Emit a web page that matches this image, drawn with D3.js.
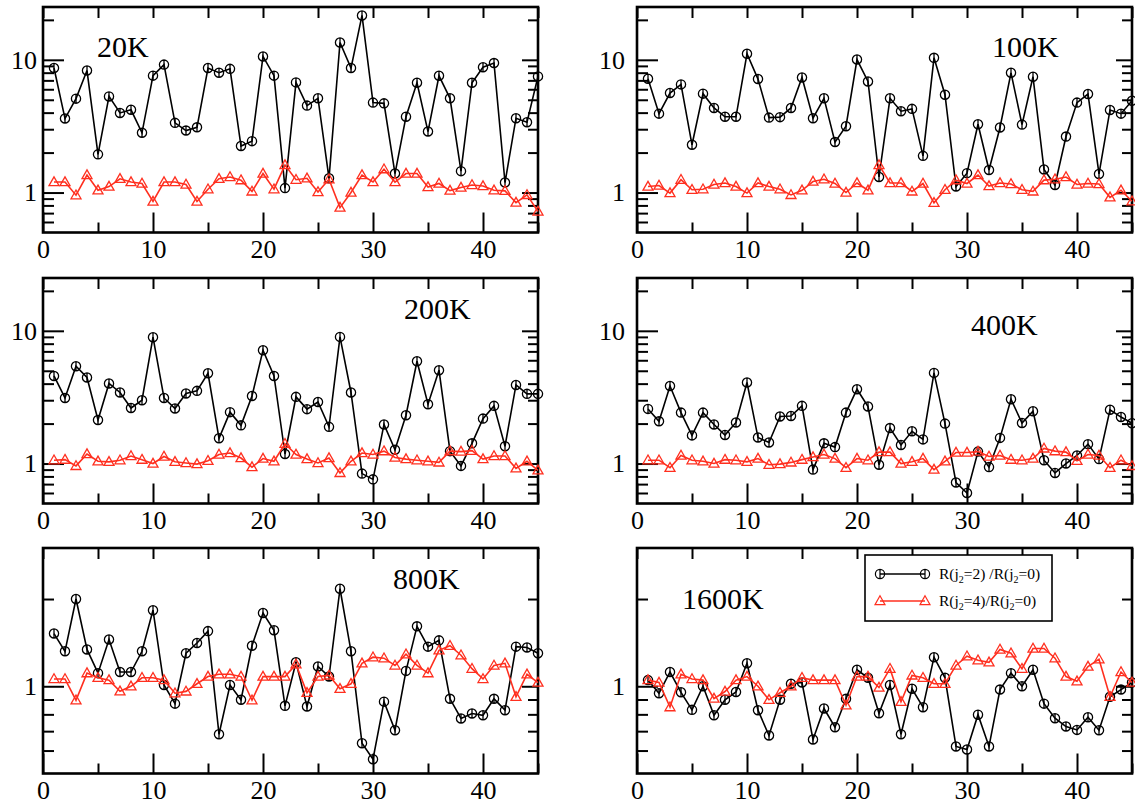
<!DOCTYPE html>
<html>
<head>
<meta charset="utf-8">
<script src="https://cdn.jsdelivr.net/npm/d3@7"></script>
<style>
  body { margin: 0; background: #fff; }
  svg { display: block; font-family: "Liberation Serif", "DejaVu Serif", serif; }
</style>
</head>
<body>
<svg></svg>
<script>
// site index along the x axis
let sites = [1,2,3,4,5,6,7,8,9,10,11,12,13,14,15,16,17,18,19,20,21,22,23,24,25,26,27,28,29,30,31,32,33,34,35,36,37,38,39,40,41,42,43,44,45]

let panelLabels = ['20K', '100K', '200K', '400K', '800K', '1600K']

// R(j2=2)/R(j2=0)  (black circles)
let r2_20K = [8.67,3.61,5.1,8.3,1.94,5.3,3.98,4.2,2.82,7.6,9.2,3.35,2.93,3.1,8.67,8.0,8.55,2.24,2.44,10.6,7.6,1.08,6.76,4.52,5.13,1.28,13.5,8.67,21.6,4.76,4.7,1.39,3.73,6.72,2.88,7.58,5.13,1.45,6.72,8.8,9.45,1.19,3.63,3.39,7.5]
let r2_100K = [7.2,3.93,5.62,6.53,2.29,5.56,4.34,3.72,3.72,11.1,7.16,3.67,3.7,4.34,7.36,3.63,5.13,2.4,3.16,10.05,6.87,1.31,5.13,4.1,4.27,1.89,10.35,5.46,1.11,1.4,3.27,1.48,3.09,7.98,3.25,7.45,1.49,1.14,2.64,4.76,5.52,1.38,4.19,3.93,4.92]
let r2_200K = [4.57,3.12,5.41,4.45,2.13,4.01,3.43,2.62,3.0,8.95,3.12,2.6,3.37,3.53,4.79,1.55,2.44,1.94,3.23,7.14,4.57,1.18,3.18,2.57,2.91,1.89,9.0,3.43,0.84,0.76,1.97,1.27,2.31,5.9,2.8,5.05,1.24,0.96,1.42,2.18,2.72,1.35,3.91,3.35,3.35]
let r2_400K = [2.58,2.08,3.84,2.42,1.63,2.42,1.97,1.64,2.04,4.08,1.57,1.44,2.26,2.28,2.72,0.9,1.42,1.33,2.42,3.63,2.69,0.98,1.85,1.38,1.75,1.52,4.82,2.0,0.72,0.6,1.23,0.94,1.56,3.05,2.02,2.48,1.06,0.85,1.0,1.15,1.4,1.08,2.54,2.24,2.01]
let r2_800K = [1.52,1.32,2.0,1.34,1.11,1.45,1.12,1.12,1.32,1.83,1.01,0.871,1.3,1.41,1.55,0.683,1.01,0.898,1.38,1.79,1.56,0.856,1.21,0.851,1.17,1.08,2.17,1.32,0.636,0.56,0.885,0.705,1.13,1.61,1.37,1.44,0.905,0.774,0.805,0.794,0.905,0.827,1.37,1.36,1.3]
let r2_1600K = [1.05,0.946,1.12,0.953,0.829,1.0,0.794,0.898,0.956,1.2,0.827,0.676,0.898,1.02,1.03,0.655,0.838,0.722,0.905,1.14,1.07,0.807,1.01,0.683,0.98,0.847,1.26,1.07,0.62,0.605,0.798,0.62,0.974,1.11,1.0,1.14,0.871,0.776,0.726,0.707,0.782,0.705,0.92,0.974,1.03]

// R(j2=4)/R(j2=0)  (red triangles)
let r4_20K = [1.2,1.2,0.955,1.355,1.04,1.11,1.27,1.2,1.17,0.856,1.2,1.2,1.15,0.856,1.06,1.27,1.31,1.24,1.02,1.39,1.06,1.61,1.25,1.28,1.01,1.26,0.77,1.0,1.355,1.2,1.5,1.2,1.39,1.39,1.1,1.17,1.035,1.09,1.14,1.12,1.04,1.03,0.84,0.96,0.72]
let r4_100K = [1.11,1.13,0.99,1.25,1.05,1.06,1.15,1.18,1.11,0.99,1.18,1.11,1.06,0.96,1.04,1.21,1.26,1.17,1.0,1.18,1.04,1.61,1.18,1.18,1.02,1.17,0.836,1.05,1.24,1.17,1.355,1.12,1.18,1.16,1.05,1.02,1.24,1.26,1.31,1.15,1.17,1.16,0.92,1.04,0.86]
let r4_200K = [1.06,1.07,0.96,1.18,1.04,1.03,1.06,1.14,1.07,1.0,1.13,1.03,1.01,0.99,1.05,1.17,1.2,1.1,0.94,1.09,1.04,1.41,1.17,1.08,1.01,1.1,0.85,1.04,1.2,1.17,1.24,1.11,1.08,1.06,1.04,1.02,1.24,1.23,1.25,1.08,1.14,1.14,0.92,1.04,0.89]
let r4_400K = [1.06,1.06,0.93,1.15,1.06,1.04,1.0,1.07,1.06,1.03,1.09,0.98,0.99,1.02,1.07,1.12,1.17,1.09,0.93,1.09,1.06,1.22,1.22,1.0,1.03,1.09,0.9,1.04,1.21,1.21,1.23,1.13,1.15,1.07,1.06,1.09,1.3,1.24,1.22,1.05,1.17,1.15,0.93,1.06,0.96]
let r4_800K = [1.06,1.06,0.895,1.11,1.07,1.05,0.961,1.0,1.07,1.07,1.05,0.946,0.96,1.02,1.08,1.1,1.1,1.08,0.895,1.08,1.08,1.08,1.19,0.949,1.08,1.09,0.98,1.02,1.2,1.26,1.25,1.18,1.29,1.18,1.11,1.33,1.38,1.28,1.15,1.06,1.18,1.2,0.92,1.1,1.03]
let r4_1600K = [1.05,1.03,0.847,1.1,1.06,1.05,0.907,0.959,1.05,1.08,1.0,0.898,0.95,1.0,1.07,1.05,1.05,1.05,0.86,1.08,1.08,0.99,1.15,0.884,1.09,1.07,1.02,1.02,1.18,1.27,1.23,1.21,1.34,1.3,1.15,1.35,1.35,1.25,1.08,1.04,1.17,1.24,0.92,1.12,1.03]

// axis ticks
let xMajor = [0,10,20,30,40]
let xMinor = [5,15,25,35,45]
let yDomainWide = [0.5, 25]
let yDomainNarrow = [0.5, 3]
let yMajorWide = [1, 10]
let yMinorWide = [0.6,0.7,0.8,0.9,2,3,4,5,6,7,8,9,20]
let yMajorNarrow = [1]
let yMinorNarrow = [0.6,0.7,0.8,0.9,2]

let legendLabels = [['R(j', '2', '=2) /R(j', '2', '=0)'], ['R(j', '2', '=4)/R(j', '2', '=0)']]

let width = 1135
let height = 807
let colLeft = [43, 637]
let rowTop = [7, 278, 548]
let plotW = 495
let plotH = 225.5
let red = '#ff2f1f'

let svg = d3.select('svg').attr('width', width).attr('height', height)

// title positions for "20K" etc (left x, baseline y), per panel
let labelPos = [[97, 57], [992, 57], [404, 319], [971, 335], [393, 589], [682, 609]]

let panels = [
    { label: panelLabels[0], black: r2_20K, red: r4_20K, wide: true },
    { label: panelLabels[1], black: r2_100K, red: r4_100K, wide: true },
    { label: panelLabels[2], black: r2_200K, red: r4_200K, wide: true },
    { label: panelLabels[3], black: r2_400K, red: r4_400K, wide: true },
    { label: panelLabels[4], black: r2_800K, red: r4_800K, wide: false },
    { label: panelLabels[5], black: r2_1600K, red: r4_1600K, wide: false }
]

let circlePath = 'M4.6,0A4.6,4.6 0 1,1 -4.6,0A4.6,4.6 0 1,1 4.6,0ZM0,-4.6V4.6'
let trianglePath = 'M0,-5.2L5,3.6L-5,3.6Z'

let drawPanel = (p, i) => {
    let col = i % 2
    let row = Math.floor(i / 2)
    let x0 = colLeft[col], x1 = x0 + plotW
    let y0 = rowTop[row], y1 = y0 + plotH

    let xScale = d3.scaleLinear().domain([0, 45]).range([x0, x1])
    let yScale = d3.scaleLog()
        .domain(p.wide ? yDomainWide : yDomainNarrow)
        .range([y1, y0])
    let yMajor = p.wide ? yMajorWide : yMajorNarrow
    let yMinor = p.wide ? yMinorWide : yMinorNarrow

    let g = svg.append('g')

    // axes, ticks point inwards
    let addAxis = (axis, transform, labels) => {
        let a = g.append('g')
            .attr('transform', transform)
            .call(axis.tickSizeOuter(0))
        a.select('.domain').remove()
        a.selectAll('line').attr('stroke', '#000').attr('stroke-width', 2)
        a.selectAll('text')
            .attr('fill', '#000')
            .style('font-family', '"Liberation Serif", serif')
            .style('font-size', labels ? '26px' : '0px')
    }
    addAxis(d3.axisBottom(xScale).tickValues(xMajor).tickSize(-20).tickPadding(7).tickFormat(d3.format('d')), `translate(0,${y1})`, true)
    addAxis(d3.axisBottom(xScale).tickValues(xMinor).tickSize(-10).tickFormat(''), `translate(0,${y1})`, false)
    addAxis(d3.axisTop(xScale).tickValues(xMajor.concat(xMinor)).tickSize(-11).tickFormat(''), `translate(0,${y0})`, false)
    addAxis(d3.axisLeft(yScale).tickValues(yMajor).tickSize(-21).tickPadding(col === 0 ? 6 : 12).tickFormat(d3.format('d')), `translate(${x0},0)`, true)
    addAxis(d3.axisLeft(yScale).tickValues(yMinor).tickSize(-11).tickFormat(''), `translate(${x0},0)`, false)
    addAxis(d3.axisRight(yScale).tickValues(yMajor).tickSize(-16).tickFormat(''), `translate(${x1},0)`, false)
    addAxis(d3.axisRight(yScale).tickValues(yMinor).tickSize(-10).tickFormat(''), `translate(${x1},0)`, false)

    g.append('rect')
        .attr('x', x0).attr('y', y0)
        .attr('width', x1 - x0).attr('height', y1 - y0)
        .attr('fill', 'none')
        .attr('stroke', '#000')
        .attr('stroke-width', 2.6)

    let line = d3.line()
        .x((d, k) => xScale(sites[k]))
        .y((d) => yScale(d))

    g.append('path')
        .datum(p.black)
        .attr('d', line)
        .attr('fill', 'none')
        .attr('stroke', '#000')
        .attr('stroke-width', 1.6)

    g.selectAll('.blk')
        .data(p.black)
        .enter()
        .append('path')
        .attr('class', 'blk')
        .attr('d', circlePath)
        .attr('transform', (d, k) => `translate(${xScale(sites[k])},${yScale(d)})`)
        .attr('fill', 'none')
        .attr('stroke', '#000')
        .attr('stroke-width', 1.3)

    g.append('path')
        .datum(p.red)
        .attr('d', line)
        .attr('fill', 'none')
        .attr('stroke', red)
        .attr('stroke-width', 1.6)

    g.selectAll('.tri')
        .data(p.red)
        .enter()
        .append('path')
        .attr('class', 'tri')
        .attr('d', trianglePath)
        .attr('transform', (d, k) => `translate(${xScale(sites[k])},${yScale(d)})`)
        .attr('fill', 'none')
        .attr('stroke', red)
        .attr('stroke-width', 1.3)

    g.append('text')
        .attr('x', labelPos[i][0])
        .attr('y', labelPos[i][1])
        .style('font-size', '30px')
        .text(p.label)
}

let drawLegend = () => {
    let lg = svg.append('g')
    lg.append('rect')
        .attr('x', 865).attr('y', 555)
        .attr('width', 187).attr('height', 66)
        .attr('fill', '#fff')
        .attr('stroke', '#000')
        .attr('stroke-width', 1.6)

    let rows = [
        { color: '#000', shape: circlePath, y: 574, text: legendLabels[0] },
        { color: red, shape: trianglePath, y: 601, text: legendLabels[1] }
    ]
    rows.forEach((r) => {
        lg.append('line')
            .attr('x1', 880).attr('x2', 925)
            .attr('y1', r.y).attr('y2', r.y)
            .attr('stroke', r.color).attr('stroke-width', 1.4)
        ;[880, 925].forEach((sx) => {
            lg.append('path')
                .attr('d', r.shape)
                .attr('transform', `translate(${sx},${r.y})`)
                .attr('fill', 'none')
                .attr('stroke', r.color)
                .attr('stroke-width', 1.2)
        })
        let t = lg.append('text')
            .attr('x', 939).attr('y', r.y + 5)
            .style('font-size', '15.5px')
        t.append('tspan').text(r.text[0])
        t.append('tspan').attr('dy', 4).style('font-size', '10px').text(r.text[1])
        t.append('tspan').attr('dy', -4).text(r.text[2])
        t.append('tspan').attr('dy', 4).style('font-size', '10px').text(r.text[3])
        t.append('tspan').attr('dy', -4).text(r.text[4])
    })
}

panels.forEach(drawPanel)
drawLegend()
</script>
</body>
</html>
